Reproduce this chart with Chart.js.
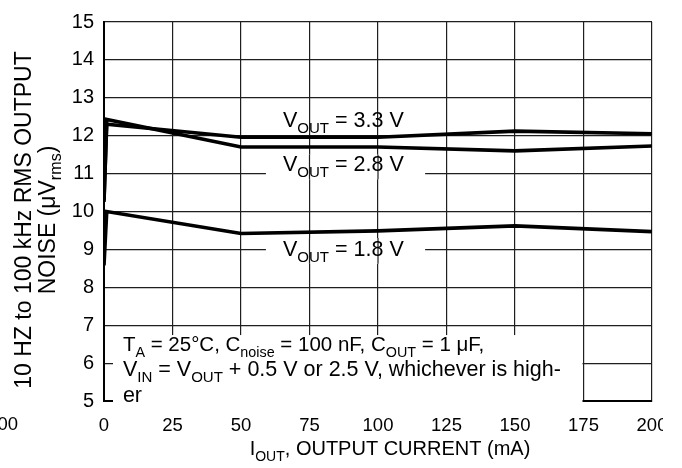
<!DOCTYPE html>
<html>
<head>
<meta charset="utf-8">
<script src="https://cdn.jsdelivr.net/npm/chart.js@4.4.1/dist/chart.umd.min.js"></script>
<style>
  html, body { margin: 0; padding: 0; background: #fff; }
  #wrap { position: absolute; left: 0; top: 0; width: 663px; height: 468px; }
</style>
</head>
<body>
<div id="wrap"><canvas id="c"></canvas></div>
<script>
// ---- data ----
const currents = [0, 1, 50, 100, 150, 200];            // I_OUT (mA)
const noise33 = [10.3, 12.3, 11.96, 11.96, 12.12, 12.05]; // VOUT = 3.3 V
const noise28 = [10.25, 12.43, 11.7, 11.7, 11.6, 11.73];  // VOUT = 2.8 V
const noise18 = [8.58, 10.0, 9.42, 9.49, 9.62, 9.47];     // VOUT = 1.8 V
const xTicks = [0, 25, 50, 75, 100, 125, 150, 175, 200];
const yTicks = [5, 6, 7, 8, 9, 10, 11, 12, 13, 14, 15];
const seriesLabels = ['3.3 V', '2.8 V', '1.8 V'];

const FONT = '"Liberation Sans", Arial, Helvetica, sans-serif';
const GRID = '#1e1e1e';
const SUB = 0.7;

function pts(ys) { return currents.map((x, i) => ({ x: x, y: ys[i] })); }

function richWidth(ctx, parts, size) {
  let w = 0;
  for (const p of parts) {
    ctx.font = (p.sub ? size * SUB : size) + 'px ' + FONT;
    w += ctx.measureText(p.t).width;
  }
  return w;
}
function drawRich(ctx, parts, x, y, size, align) {
  let cx = x;
  if (align === 'center') cx = x - richWidth(ctx, parts, size) / 2;
  ctx.textAlign = 'left';
  for (const p of parts) {
    ctx.font = (p.sub ? size * SUB : size) + 'px ' + FONT;
    ctx.fillText(p.t, cx, y + (p.sub ? size * 0.28 : 0));
    cx += ctx.measureText(p.t).width;
  }
}

const decor = {
  id: 'decor',
  beforeDatasetsDraw(chart) {
    const ctx = chart.ctx, xs = chart.scales.x, ys = chart.scales.y;
    ctx.save();
    ctx.fillStyle = '#fff';
    // condition text box (bottom left)
    const bx0 = xs.left + 9, bx1 = xs.getPixelForValue(175) - 1;
    const by0 = ys.getPixelForValue(6.74), by1 = ys.bottom + 3;
    ctx.fillRect(bx0, by0, bx1 - bx0, by1 - by0);
    // label boxes
    const boxes = [
      [59.1, 117.2, 11.5, 10.85],
      [59.1, 117.2, 9.3, 8.62]
    ];
    ctx.strokeStyle = GRID;
    ctx.lineWidth = 1.2;
    for (const b of boxes) {
      const x0 = xs.getPixelForValue(b[0]), x1 = xs.getPixelForValue(b[1]);
      const y0 = ys.getPixelForValue(b[2]), y1 = ys.getPixelForValue(b[3]);
      ctx.fillRect(x0, y0, x1 - x0, y1 - y0);
      for (const v of xTicks) {
        const px = xs.getPixelForValue(v);
        if (px > x0 && px < x1) {
          ctx.beginPath(); ctx.moveTo(px, y0); ctx.lineTo(px, y1); ctx.stroke();
        }
      }
    }
    ctx.restore();
  },
  afterDraw(chart) {
    const ctx = chart.ctx, xs = chart.scales.x, ys = chart.scales.y;
    ctx.save();
    ctx.fillStyle = '#000';
    ctx.textBaseline = 'alphabetic';
    // curve labels
    const lx = xs.getPixelForValue(65.3);
    drawRich(ctx, [{t:'V'},{t:'OUT',sub:true},{t:' = ' + seriesLabels[0]}], lx, ys.getPixelForValue(12.22), 21.5);
    drawRich(ctx, [{t:'V'},{t:'OUT',sub:true},{t:' = ' + seriesLabels[1]}], lx, ys.getPixelForValue(11.08), 21.5);
    drawRich(ctx, [{t:'V'},{t:'OUT',sub:true},{t:' = ' + seriesLabels[2]}], lx, ys.getPixelForValue(8.82), 21.5);
    // conditions
    const tx = xs.getPixelForValue(6.9);
    drawRich(ctx, [{t:'T'},{t:'A',sub:true},{t:' = 25°C, C'},{t:'noise',sub:true},{t:' = 100 nF, C'},{t:'OUT',sub:true},{t:' = 1 μF,'}], tx, ys.getPixelForValue(6.32), 20.5);
    drawRich(ctx, [{t:'V'},{t:'IN',sub:true},{t:' = V'},{t:'OUT',sub:true},{t:' + 0.5 V or 2.5 V, whichever is high-'}], tx, ys.getPixelForValue(5.65), 21.5);
    drawRich(ctx, [{t:'er'}], tx, ys.getPixelForValue(4.97), 21.5);
    // x title
    drawRich(ctx, [{t:'I'},{t:'OUT',sub:true},{t:', OUTPUT CURRENT (mA)'}], (xs.left + xs.right) / 2 + 12, 455, 20, 'center');
    // y title (two lines, rotated)
    ctx.save();
    ctx.translate(31, 220);
    ctx.rotate(-Math.PI / 2);
    drawRich(ctx, [{t:'10 HZ to 100 kHz RMS OUTPUT'}], 0, 0, 23, 'center');
    drawRich(ctx, [{t:'NOISE ('},{t:'μ'},{t:'V'},{t:'rms',sub:true},{t:')'}], 0, 24, 23, 'center');
    ctx.restore();
    // clipped label from neighbouring graph at far left
    ctx.font = '18.5px ' + FONT;
    ctx.textAlign = 'right';
    ctx.fillText('100', 18, 430);
    ctx.restore();
  }
};

const lineStyle = { borderColor: '#000', borderWidth: 3.6, pointRadius: 0, tension: 0, fill: false };

new Chart(document.getElementById('c'), {
  type: 'line',
  data: {
    datasets: [
      Object.assign({ label: 'VOUT = 3.3 V', data: pts(noise33) }, lineStyle),
      Object.assign({ label: 'VOUT = 2.8 V', data: pts(noise28) }, lineStyle),
      Object.assign({ label: 'VOUT = 1.8 V', data: pts(noise18) }, lineStyle)
    ]
  },
  options: {
    responsive: true,
    maintainAspectRatio: false,
    devicePixelRatio: 1,
    animation: false,
    layout: { padding: { top: 16, right: 11, left: 0, bottom: 0 } },
    plugins: { legend: { display: false }, tooltip: { enabled: false } },
    scales: {
      x: {
        type: 'linear', min: 0, max: 200,
        afterBuildTicks: s => { s.ticks = xTicks.map(v => ({ value: v })); },
        afterFit: s => { s.height = 67; s.paddingRight = 0; s.paddingLeft = 0; },
        grid: { color: GRID, lineWidth: 1.2, drawTicks: false },
        border: { color: '#000', width: 2 },
        ticks: { color: '#000', font: { family: FONT, size: 18.5 }, padding: 14, maxRotation: 0, autoSkip: false }
      },
      y: {
        type: 'linear', min: 5, max: 15,
        afterBuildTicks: s => { s.ticks = yTicks.map(v => ({ value: v })); },
        afterFit: s => { s.width = 104; },
        grid: { color: GRID, lineWidth: 1.2, drawTicks: false },
        border: { color: '#000', width: 2 },
        ticks: { color: '#000', font: { family: FONT, size: 20 }, padding: 10, autoSkip: false }
      }
    }
  },
  plugins: [decor]
});
</script>
</body>
</html>
